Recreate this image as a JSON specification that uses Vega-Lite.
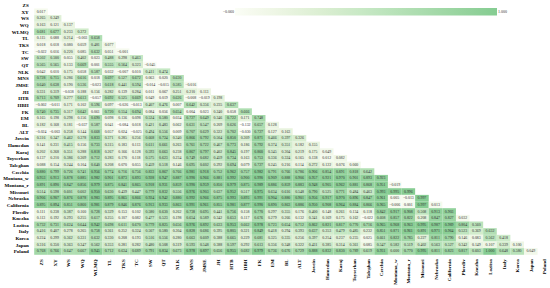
{"$schema":"https://vega.github.io/schema/vega-lite/v6.json","width":517,"height":253,"autosize":"none","padding":{"left":34.2,"top":1.8,"right":0,"bottom":33.2},"background":"white","config":{"view":{"stroke":null}},
"data":{"values":[
{"r":"XY","c":"ZS","v":0.017},
{"r":"WS","c":"ZS","v":0.265},{"r":"WS","c":"XY","v":0.249},
{"r":"WQ","c":"ZS","v":0.163},{"r":"WQ","c":"XY","v":0.121},{"r":"WQ","c":"WS","v":0.137},
{"r":"WLMQ","c":"ZS","v":0.681},{"r":"WLMQ","c":"XY","v":0.677},{"r":"WLMQ","c":"WS","v":0.233},{"r":"WLMQ","c":"WQ","v":0.372},
{"r":"TL","c":"ZS","v":0.115},{"r":"TL","c":"XY","v":0.088},{"r":"TL","c":"WS","v":0.214},{"r":"TL","c":"WQ","v":-0.003},{"r":"TL","c":"WLMQ","v":0.658},
{"r":"TKS","c":"ZS","v":0.018},{"r":"TKS","c":"XY","v":0.018},{"r":"TKS","c":"WS","v":0.08},{"r":"TKS","c":"WQ","v":0.059},{"r":"TKS","c":"WLMQ","v":0.481},{"r":"TKS","c":"TL","v":0.077},
{"r":"TC","c":"ZS","v":-0.022},{"r":"TC","c":"XY","v":0.016},{"r":"TC","c":"WS","v":0.22},{"r":"TC","c":"WQ","v":0.085},{"r":"TC","c":"WLMQ","v":0.632},{"r":"TC","c":"TL","v":0.051},{"r":"TC","c":"TKS","v":-0.001},
{"r":"SW","c":"ZS","v":0.502},{"r":"SW","c":"XY","v":0.5},{"r":"SW","c":"WS","v":0.055},{"r":"SW","c":"WQ","v":0.402},{"r":"SW","c":"WLMQ","v":0.023},{"r":"SW","c":"TL","v":0.488},{"r":"SW","c":"TKS","v":0.298},{"r":"SW","c":"TC","v":0.463},
{"r":"QT","c":"ZS","v":0.565},{"r":"QT","c":"XY","v":0.565},{"r":"QT","c":"WS","v":0.133},{"r":"QT","c":"WQ","v":0.669},{"r":"QT","c":"WLMQ","v":0.001},{"r":"QT","c":"TL","v":0.555},{"r":"QT","c":"TKS","v":0.564},{"r":"QT","c":"TC","v":0.323},{"r":"QT","c":"SW","v":-0.045},
{"r":"NLK","c":"ZS","v":0.042},{"r":"NLK","c":"XY","v":0.01},{"r":"NLK","c":"WS","v":0.175},{"r":"NLK","c":"WQ","v":0.058},{"r":"NLK","c":"WLMQ","v":0.587},{"r":"NLK","c":"TL","v":0.032},{"r":"NLK","c":"TKS","v":-0.007},{"r":"NLK","c":"TC","v":0.01},{"r":"NLK","c":"SW","v":0.411},{"r":"NLK","c":"QT","v":0.474},
{"r":"MNS","c":"ZS","v":0.728},{"r":"MNS","c":"XY","v":0.715},{"r":"MNS","c":"WS","v":0.286},{"r":"MNS","c":"WQ","v":0.616},{"r":"MNS","c":"WLMQ","v":0.018},{"r":"MNS","c":"TL","v":0.697},{"r":"MNS","c":"TKS","v":0.527},{"r":"MNS","c":"TC","v":0.672},{"r":"MNS","c":"SW","v":0.063},{"r":"MNS","c":"QT","v":0.02},{"r":"MNS","c":"NLK","v":0.63},
{"r":"JMSE","c":"ZS","v":0.64},{"r":"JMSE","c":"XY","v":0.638},{"r":"JMSE","c":"WS","v":0.19},{"r":"JMSE","c":"WQ","v":0.536},{"r":"JMSE","c":"WLMQ","v":-0.023},{"r":"JMSE","c":"TL","v":0.618},{"r":"JMSE","c":"TKS","v":0.441},{"r":"JMSE","c":"TC","v":0.594},{"r":"JMSE","c":"SW","v":-0.014},{"r":"JMSE","c":"QT","v":-0.015},{"r":"JMSE","c":"NLK","v":0.585},{"r":"JMSE","c":"MNS","v":-0.016},
{"r":"JH","c":"ZS","v":0.331},{"r":"JH","c":"XY","v":0.319},{"r":"JH","c":"WS","v":-0.038},{"r":"JH","c":"WQ","v":0.188},{"r":"JH","c":"WLMQ","v":0.156},{"r":"JH","c":"TL","v":0.282},{"r":"JH","c":"TKS","v":0.139},{"r":"JH","c":"TC","v":0.284},{"r":"JH","c":"SW","v":0.011},{"r":"JH","c":"QT","v":0.067},{"r":"JH","c":"NLK","v":0.251},{"r":"JH","c":"MNS","v":0.21},{"r":"JH","c":"JMSE","v":0.113},
{"r":"HTB","c":"ZS","v":0.713},{"r":"HTB","c":"XY","v":0.709},{"r":"HTB","c":"WS","v":0.277},{"r":"HTB","c":"WQ","v":0.613},{"r":"HTB","c":"WLMQ","v":-0.057},{"r":"HTB","c":"TL","v":0.692},{"r":"HTB","c":"TKS","v":0.525},{"r":"HTB","c":"TC","v":0.669},{"r":"HTB","c":"SW","v":0.049},{"r":"HTB","c":"QT","v":0.019},{"r":"HTB","c":"NLK","v":0.626},{"r":"HTB","c":"MNS","v":-0.008},{"r":"HTB","c":"JMSE","v":-0.019},{"r":"HTB","c":"JH","v":0.198},
{"r":"HBH","c":"ZS","v":-0.002},{"r":"HBH","c":"XY","v":-0.011},{"r":"HBH","c":"WS","v":0.171},{"r":"HBH","c":"WQ","v":0.102},{"r":"HBH","c":"WLMQ","v":0.596},{"r":"HBH","c":"TL","v":0.097},{"r":"HBH","c":"TKS","v":-0.026},{"r":"HBH","c":"TC","v":-0.013},{"r":"HBH","c":"SW","v":0.407},{"r":"HBH","c":"QT","v":0.476},{"r":"HBH","c":"NLK","v":0.007},{"r":"HBH","c":"MNS","v":0.642},{"r":"HBH","c":"JMSE","v":0.356},{"r":"HBH","c":"JH","v":0.235},{"r":"HBH","c":"HTB","v":0.637},
{"r":"FK","c":"ZS","v":0.74},{"r":"FK","c":"XY","v":0.735},{"r":"FK","c":"WS","v":0.317},{"r":"FK","c":"WQ","v":0.642},{"r":"FK","c":"WLMQ","v":0.061},{"r":"FK","c":"TL","v":0.72},{"r":"FK","c":"TKS","v":0.554},{"r":"FK","c":"TC","v":0.694},{"r":"FK","c":"SW","v":0.084},{"r":"FK","c":"QT","v":0.056},{"r":"FK","c":"NLK","v":0.654},{"r":"FK","c":"MNS","v":0.004},{"r":"FK","c":"JMSE","v":0.023},{"r":"FK","c":"JH","v":0.24},{"r":"FK","c":"HTB","v":0.058},{"r":"FK","c":"HBH","v":0.666},
{"r":"EM","c":"ZS","v":0.165},{"r":"EM","c":"XY","v":0.198},{"r":"EM","c":"WS","v":0.298},{"r":"EM","c":"WQ","v":0.156},{"r":"EM","c":"WLMQ","v":0.69},{"r":"EM","c":"TL","v":0.098},{"r":"EM","c":"TKS","v":0.136},{"r":"EM","c":"TC","v":0.098},{"r":"EM","c":"SW","v":0.524},{"r":"EM","c":"QT","v":0.58},{"r":"EM","c":"NLK","v":0.034},{"r":"EM","c":"MNS","v":0.727},{"r":"EM","c":"JMSE","v":0.649},{"r":"EM","c":"JH","v":0.346},{"r":"EM","c":"HTB","v":0.722},{"r":"EM","c":"HBH","v":0.171},{"r":"EM","c":"FK","v":0.748},
{"r":"BL","c":"ZS","v":0.182},{"r":"BL","c":"XY","v":0.168},{"r":"BL","c":"WS","v":0.181},{"r":"BL","c":"WQ","v":-0.037},{"r":"BL","c":"WLMQ","v":0.587},{"r":"BL","c":"TL","v":0.041},{"r":"BL","c":"TKS","v":-0.084},{"r":"BL","c":"TC","v":0.018},{"r":"BL","c":"SW","v":0.421},{"r":"BL","c":"QT","v":0.483},{"r":"BL","c":"NLK","v":0.062},{"r":"BL","c":"MNS","v":0.631},{"r":"BL","c":"JMSE","v":0.547},{"r":"BL","c":"JH","v":0.209},{"r":"BL","c":"HTB","v":0.626},{"r":"BL","c":"HBH","v":-0.132},{"r":"BL","c":"FK","v":0.657},{"r":"BL","c":"EM","v":0.128},
{"r":"ALT","c":"ZS","v":-0.024},{"r":"ALT","c":"XY","v":-0.003},{"r":"ALT","c":"WS","v":0.258},{"r":"ALT","c":"WQ","v":0.144},{"r":"ALT","c":"WLMQ","v":0.668},{"r":"ALT","c":"TL","v":0.057},{"r":"ALT","c":"TKS","v":0.024},{"r":"ALT","c":"TC","v":-0.025},{"r":"ALT","c":"SW","v":0.494},{"r":"ALT","c":"QT","v":0.556},{"r":"ALT","c":"NLK","v":0.009},{"r":"ALT","c":"MNS","v":0.707},{"r":"ALT","c":"JMSE","v":0.629},{"r":"ALT","c":"JH","v":0.322},{"r":"ALT","c":"HTB","v":0.702},{"r":"ALT","c":"HBH","v":-0.03},{"r":"ALT","c":"FK","v":0.727},{"r":"ALT","c":"EM","v":0.127},{"r":"ALT","c":"BL","v":0.163},
{"r":"Jovein","c":"ZS","v":0.316},{"r":"Jovein","c":"XY","v":0.347},{"r":"Jovein","c":"WS","v":0.462},{"r":"Jovein","c":"WQ","v":0.378},{"r":"Jovein","c":"WLMQ","v":0.833},{"r":"Jovein","c":"TL","v":0.371},{"r":"Jovein","c":"TKS","v":0.285},{"r":"Jovein","c":"TC","v":0.256},{"r":"Jovein","c":"SW","v":0.668},{"r":"Jovein","c":"QT","v":0.724},{"r":"Jovein","c":"NLK","v":0.34},{"r":"Jovein","c":"MNS","v":0.866},{"r":"Jovein","c":"JMSE","v":0.792},{"r":"Jovein","c":"JH","v":0.504},{"r":"Jovein","c":"HTB","v":0.85},{"r":"Jovein","c":"HBH","v":0.309},{"r":"Jovein","c":"FK","v":0.871},{"r":"Jovein","c":"EM","v":0.466},{"r":"Jovein","c":"BL","v":0.397},{"r":"Jovein","c":"ALT","v":0.326},
{"r":"Hamedan","c":"ZS","v":0.141},{"r":"Hamedan","c":"XY","v":0.231},{"r":"Hamedan","c":"WS","v":0.415},{"r":"Hamedan","c":"WQ","v":0.156},{"r":"Hamedan","c":"WLMQ","v":0.733},{"r":"Hamedan","c":"TL","v":0.315},{"r":"Hamedan","c":"TKS","v":0.183},{"r":"Hamedan","c":"TC","v":0.113},{"r":"Hamedan","c":"SW","v":0.611},{"r":"Hamedan","c":"QT","v":0.661},{"r":"Hamedan","c":"NLK","v":0.263},{"r":"Hamedan","c":"MNS","v":0.761},{"r":"Hamedan","c":"JMSE","v":0.722},{"r":"Hamedan","c":"JH","v":0.467},{"r":"Hamedan","c":"HTB","v":0.773},{"r":"Hamedan","c":"HBH","v":0.186},{"r":"Hamedan","c":"FK","v":0.792},{"r":"Hamedan","c":"EM","v":0.374},{"r":"Hamedan","c":"BL","v":0.351},{"r":"Hamedan","c":"ALT","v":0.182},{"r":"Hamedan","c":"Jovein","v":0.155},
{"r":"Karaj","c":"ZS","v":0.202},{"r":"Karaj","c":"XY","v":0.268},{"r":"Karaj","c":"WS","v":0.351},{"r":"Karaj","c":"WQ","v":0.288},{"r":"Karaj","c":"WLMQ","v":0.818},{"r":"Karaj","c":"TL","v":0.267},{"r":"Karaj","c":"TKS","v":0.166},{"r":"Karaj","c":"TC","v":0.128},{"r":"Karaj","c":"SW","v":0.593},{"r":"Karaj","c":"QT","v":0.663},{"r":"Karaj","c":"NLK","v":0.238},{"r":"Karaj","c":"MNS","v":0.867},{"r":"Karaj","c":"JMSE","v":0.797},{"r":"Karaj","c":"JH","v":0.402},{"r":"Karaj","c":"HTB","v":0.845},{"r":"Karaj","c":"HBH","v":0.197},{"r":"Karaj","c":"FK","v":0.86},{"r":"Karaj","c":"EM","v":0.345},{"r":"Karaj","c":"BL","v":0.304},{"r":"Karaj","c":"ALT","v":0.219},{"r":"Karaj","c":"Jovein","v":0.175},{"r":"Karaj","c":"Hamedan","v":0.049},
{"r":"Toyserkan","c":"ZS","v":0.137},{"r":"Toyserkan","c":"XY","v":0.21},{"r":"Toyserkan","c":"WS","v":0.386},{"r":"Toyserkan","c":"WQ","v":0.309},{"r":"Toyserkan","c":"WLMQ","v":0.712},{"r":"Toyserkan","c":"TL","v":0.283},{"r":"Toyserkan","c":"TKS","v":0.17},{"r":"Toyserkan","c":"TC","v":0.118},{"r":"Toyserkan","c":"SW","v":0.575},{"r":"Toyserkan","c":"QT","v":0.623},{"r":"Toyserkan","c":"NLK","v":0.234},{"r":"Toyserkan","c":"MNS","v":0.749},{"r":"Toyserkan","c":"JMSE","v":0.682},{"r":"Toyserkan","c":"JH","v":0.459},{"r":"Toyserkan","c":"HTB","v":0.734},{"r":"Toyserkan","c":"HBH","v":0.163},{"r":"Toyserkan","c":"FK","v":0.753},{"r":"Toyserkan","c":"EM","v":0.336},{"r":"Toyserkan","c":"BL","v":0.324},{"r":"Toyserkan","c":"ALT","v":0.165},{"r":"Toyserkan","c":"Jovein","v":0.138},{"r":"Toyserkan","c":"Hamedan","v":0.012},{"r":"Toyserkan","c":"Karaj","v":0.082},
{"r":"Taleghan","c":"ZS","v":0.088},{"r":"Taleghan","c":"XY","v":0.154},{"r":"Taleghan","c":"WS","v":0.244},{"r":"Taleghan","c":"WQ","v":0.104},{"r":"Taleghan","c":"WLMQ","v":0.64},{"r":"Taleghan","c":"TL","v":0.208},{"r":"Taleghan","c":"TKS","v":0.07},{"r":"Taleghan","c":"TC","v":0.055},{"r":"Taleghan","c":"SW","v":0.459},{"r":"Taleghan","c":"QT","v":0.518},{"r":"Taleghan","c":"NLK","v":0.146},{"r":"Taleghan","c":"MNS","v":0.695},{"r":"Taleghan","c":"JMSE","v":0.602},{"r":"Taleghan","c":"JH","v":0.292},{"r":"Taleghan","c":"HTB","v":0.694},{"r":"Taleghan","c":"HBH","v":0.079},{"r":"Taleghan","c":"FK","v":0.727},{"r":"Taleghan","c":"EM","v":0.245},{"r":"Taleghan","c":"BL","v":0.216},{"r":"Taleghan","c":"ALT","v":0.114},{"r":"Taleghan","c":"Jovein","v":0.272},{"r":"Taleghan","c":"Hamedan","v":0.122},{"r":"Taleghan","c":"Karaj","v":0.076},{"r":"Taleghan","c":"Toyserkan","v":0.06},
{"r":"Czechia","c":"ZS","v":0.88},{"r":"Czechia","c":"XY","v":0.799},{"r":"Czechia","c":"WS","v":0.726},{"r":"Czechia","c":"WQ","v":0.741},{"r":"Czechia","c":"WLMQ","v":0.956},{"r":"Czechia","c":"TL","v":0.774},{"r":"Czechia","c":"TKS","v":0.716},{"r":"Czechia","c":"TC","v":0.756},{"r":"Czechia","c":"SW","v":0.833},{"r":"Czechia","c":"QT","v":0.867},{"r":"Czechia","c":"NLK","v":0.766},{"r":"Czechia","c":"MNS","v":0.981},{"r":"Czechia","c":"JMSE","v":0.918},{"r":"Czechia","c":"JH","v":0.752},{"r":"Czechia","c":"HTB","v":0.962},{"r":"Czechia","c":"HBH","v":0.757},{"r":"Czechia","c":"FK","v":0.982},{"r":"Czechia","c":"EM","v":0.791},{"r":"Czechia","c":"BL","v":0.766},{"r":"Czechia","c":"ALT","v":0.786},{"r":"Czechia","c":"Jovein","v":0.906},{"r":"Czechia","c":"Hamedan","v":0.854},{"r":"Czechia","c":"Karaj","v":0.891},{"r":"Czechia","c":"Toyserkan","v":0.818},{"r":"Czechia","c":"Taleghan","v":0.642},
{"r":"Montana_w","c":"ZS","v":0.953},{"r":"Montana_w","c":"XY","v":0.913},{"r":"Montana_w","c":"WS","v":0.878},{"r":"Montana_w","c":"WQ","v":0.885},{"r":"Montana_w","c":"WLMQ","v":0.982},{"r":"Montana_w","c":"TL","v":0.901},{"r":"Montana_w","c":"TKS","v":0.873},{"r":"Montana_w","c":"TC","v":0.893},{"r":"Montana_w","c":"SW","v":0.928},{"r":"Montana_w","c":"QT","v":0.947},{"r":"Montana_w","c":"NLK","v":0.887},{"r":"Montana_w","c":"MNS","v":0.99},{"r":"Montana_w","c":"JMSE","v":0.966},{"r":"Montana_w","c":"JH","v":0.881},{"r":"Montana_w","c":"HTB","v":0.992},{"r":"Montana_w","c":"HBH","v":0.9},{"r":"Montana_w","c":"FK","v":0.99},{"r":"Montana_w","c":"EM","v":0.909},{"r":"Montana_w","c":"BL","v":0.888},{"r":"Montana_w","c":"ALT","v":0.906},{"r":"Montana_w","c":"Jovein","v":0.957},{"r":"Montana_w","c":"Hamedan","v":0.921},{"r":"Montana_w","c":"Karaj","v":0.97},{"r":"Montana_w","c":"Toyserkan","v":0.901},{"r":"Montana_w","c":"Taleghan","v":0.893},{"r":"Montana_w","c":"Czechia","v":0.923},
{"r":"Montana_r","c":"ZS","v":0.891},{"r":"Montana_r","c":"XY","v":0.89},{"r":"Montana_r","c":"WS","v":0.847},{"r":"Montana_r","c":"WQ","v":0.856},{"r":"Montana_r","c":"WLMQ","v":0.979},{"r":"Montana_r","c":"TL","v":0.875},{"r":"Montana_r","c":"TKS","v":0.841},{"r":"Montana_r","c":"TC","v":0.865},{"r":"Montana_r","c":"SW","v":0.918},{"r":"Montana_r","c":"QT","v":0.931},{"r":"Montana_r","c":"NLK","v":0.859},{"r":"Montana_r","c":"MNS","v":0.99},{"r":"Montana_r","c":"JMSE","v":0.959},{"r":"Montana_r","c":"JH","v":0.85},{"r":"Montana_r","c":"HTB","v":0.979},{"r":"Montana_r","c":"HBH","v":0.875},{"r":"Montana_r","c":"FK","v":0.989},{"r":"Montana_r","c":"EM","v":0.886},{"r":"Montana_r","c":"BL","v":0.859},{"r":"Montana_r","c":"ALT","v":0.883},{"r":"Montana_r","c":"Jovein","v":0.948},{"r":"Montana_r","c":"Hamedan","v":0.905},{"r":"Montana_r","c":"Karaj","v":0.962},{"r":"Montana_r","c":"Toyserkan","v":0.881},{"r":"Montana_r","c":"Taleghan","v":0.868},{"r":"Montana_r","c":"Czechia","v":0.951},{"r":"Montana_r","c":"Montana_w","v":-0.019},
{"r":"Missouri","c":"ZS","v":0.514},{"r":"Missouri","c":"XY","v":0.598},{"r":"Missouri","c":"WS","v":0.601},{"r":"Missouri","c":"WQ","v":0.602},{"r":"Missouri","c":"WLMQ","v":0.95},{"r":"Missouri","c":"TL","v":0.63},{"r":"Missouri","c":"TKS","v":0.439},{"r":"Missouri","c":"TC","v":0.447},{"r":"Missouri","c":"SW","v":0.779},{"r":"Missouri","c":"QT","v":0.832},{"r":"Missouri","c":"NLK","v":0.556},{"r":"Missouri","c":"MNS","v":0.976},{"r":"Missouri","c":"JMSE","v":0.903},{"r":"Missouri","c":"JH","v":0.637},{"r":"Missouri","c":"HTB","v":0.952},{"r":"Missouri","c":"HBH","v":0.517},{"r":"Missouri","c":"FK","v":0.975},{"r":"Missouri","c":"EM","v":0.634},{"r":"Missouri","c":"BL","v":0.616},{"r":"Missouri","c":"ALT","v":0.548},{"r":"Missouri","c":"Jovein","v":0.79},{"r":"Missouri","c":"Hamedan","v":0.525},{"r":"Missouri","c":"Karaj","v":0.771},{"r":"Missouri","c":"Toyserkan","v":0.484},{"r":"Missouri","c":"Taleghan","v":0.463},{"r":"Missouri","c":"Czechia","v":0.993},{"r":"Missouri","c":"Montana_w","v":0.995},{"r":"Missouri","c":"Montana_r","v":0.996},
{"r":"Nebraska","c":"ZS","v":0.906},{"r":"Nebraska","c":"XY","v":0.907},{"r":"Nebraska","c":"WS","v":0.876},{"r":"Nebraska","c":"WQ","v":0.878},{"r":"Nebraska","c":"WLMQ","v":0.983},{"r":"Nebraska","c":"TL","v":0.895},{"r":"Nebraska","c":"TKS","v":0.865},{"r":"Nebraska","c":"TC","v":0.866},{"r":"Nebraska","c":"SW","v":0.924},{"r":"Nebraska","c":"QT","v":0.942},{"r":"Nebraska","c":"NLK","v":0.88},{"r":"Nebraska","c":"MNS","v":0.992},{"r":"Nebraska","c":"JMSE","v":0.966},{"r":"Nebraska","c":"JH","v":0.875},{"r":"Nebraska","c":"HTB","v":0.993},{"r":"Nebraska","c":"HBH","v":0.893},{"r":"Nebraska","c":"FK","v":0.991},{"r":"Nebraska","c":"EM","v":0.904},{"r":"Nebraska","c":"BL","v":0.88},{"r":"Nebraska","c":"ALT","v":0.901},{"r":"Nebraska","c":"Jovein","v":0.956},{"r":"Nebraska","c":"Hamedan","v":0.917},{"r":"Nebraska","c":"Karaj","v":0.97},{"r":"Nebraska","c":"Toyserkan","v":0.896},{"r":"Nebraska","c":"Taleghan","v":0.847},{"r":"Nebraska","c":"Czechia","v":0.961},{"r":"Nebraska","c":"Montana_w","v":0.005},{"r":"Nebraska","c":"Montana_r","v":-0.013},{"r":"Nebraska","c":"Missouri","v":0.997},
{"r":"California","c":"ZS","v":0.895},{"r":"California","c":"XY","v":0.894},{"r":"California","c":"WS","v":0.851},{"r":"California","c":"WQ","v":0.86},{"r":"California","c":"WLMQ","v":0.981},{"r":"California","c":"TL","v":0.879},{"r":"California","c":"TKS","v":0.846},{"r":"California","c":"TC","v":0.876},{"r":"California","c":"SW","v":0.913},{"r":"California","c":"QT","v":0.933},{"r":"California","c":"NLK","v":0.863},{"r":"California","c":"MNS","v":0.991},{"r":"California","c":"JMSE","v":0.961},{"r":"California","c":"JH","v":0.855},{"r":"California","c":"HTB","v":0.981},{"r":"California","c":"HBH","v":0.877},{"r":"California","c":"FK","v":0.99},{"r":"California","c":"EM","v":0.89},{"r":"California","c":"BL","v":0.863},{"r":"California","c":"ALT","v":0.886},{"r":"California","c":"Jovein","v":0.95},{"r":"California","c":"Hamedan","v":0.908},{"r":"California","c":"Karaj","v":0.964},{"r":"California","c":"Toyserkan","v":0.884},{"r":"California","c":"Taleghan","v":0.866},{"r":"California","c":"Czechia","v":0.965},{"r":"California","c":"Montana_w","v":-0.006},{"r":"California","c":"Montana_r","v":0.001},{"r":"California","c":"Missouri","v":0.997},{"r":"California","c":"Nebraska","v":0.013},
{"r":"Plovdiv","c":"ZS","v":0.111},{"r":"Plovdiv","c":"XY","v":0.238},{"r":"Plovdiv","c":"WS","v":0.387},{"r":"Plovdiv","c":"WQ","v":0.16},{"r":"Plovdiv","c":"WLMQ","v":0.728},{"r":"Plovdiv","c":"TL","v":0.329},{"r":"Plovdiv","c":"TKS","v":0.153},{"r":"Plovdiv","c":"TC","v":0.102},{"r":"Plovdiv","c":"SW","v":0.58},{"r":"Plovdiv","c":"QT","v":0.63},{"r":"Plovdiv","c":"NLK","v":0.262},{"r":"Plovdiv","c":"MNS","v":0.738},{"r":"Plovdiv","c":"JMSE","v":0.695},{"r":"Plovdiv","c":"JH","v":0.441},{"r":"Plovdiv","c":"HTB","v":0.756},{"r":"Plovdiv","c":"HBH","v":0.158},{"r":"Plovdiv","c":"FK","v":0.77},{"r":"Plovdiv","c":"EM","v":0.297},{"r":"Plovdiv","c":"BL","v":0.355},{"r":"Plovdiv","c":"ALT","v":0.176},{"r":"Plovdiv","c":"Jovein","v":0.4},{"r":"Plovdiv","c":"Hamedan","v":0.148},{"r":"Plovdiv","c":"Karaj","v":0.261},{"r":"Plovdiv","c":"Toyserkan","v":0.134},{"r":"Plovdiv","c":"Taleghan","v":0.118},{"r":"Plovdiv","c":"Czechia","v":0.842},{"r":"Plovdiv","c":"Montana_w","v":0.917},{"r":"Plovdiv","c":"Montana_r","v":0.908},{"r":"Plovdiv","c":"Missouri","v":0.508},{"r":"Plovdiv","c":"Nebraska","v":0.913},{"r":"Plovdiv","c":"California","v":0.903},
{"r":"Knezha","c":"ZS","v":0.113},{"r":"Knezha","c":"XY","v":0.192},{"r":"Knezha","c":"WS","v":0.293},{"r":"Knezha","c":"WQ","v":0.255},{"r":"Knezha","c":"WLMQ","v":0.617},{"r":"Knezha","c":"TL","v":0.255},{"r":"Knezha","c":"TKS","v":0.107},{"r":"Knezha","c":"TC","v":0.082},{"r":"Knezha","c":"SW","v":0.477},{"r":"Knezha","c":"QT","v":0.523},{"r":"Knezha","c":"NLK","v":0.198},{"r":"Knezha","c":"MNS","v":0.654},{"r":"Knezha","c":"JMSE","v":0.589},{"r":"Knezha","c":"JH","v":0.342},{"r":"Knezha","c":"HTB","v":0.653},{"r":"Knezha","c":"HBH","v":0.117},{"r":"Knezha","c":"FK","v":0.676},{"r":"Knezha","c":"EM","v":0.279},{"r":"Knezha","c":"BL","v":0.266},{"r":"Knezha","c":"ALT","v":0.132},{"r":"Knezha","c":"Jovein","v":0.341},{"r":"Knezha","c":"Hamedan","v":0.169},{"r":"Knezha","c":"Karaj","v":0.175},{"r":"Knezha","c":"Toyserkan","v":0.162},{"r":"Knezha","c":"Taleghan","v":-0.022},{"r":"Knezha","c":"Czechia","v":0.608},{"r":"Knezha","c":"Montana_w","v":0.857},{"r":"Knezha","c":"Montana_r","v":0.822},{"r":"Knezha","c":"Missouri","v":0.208},{"r":"Knezha","c":"Nebraska","v":0.847},{"r":"Knezha","c":"California","v":0.827},{"r":"Knezha","c":"Plovdiv","v":0.032},
{"r":"Lozitsa","c":"ZS","v":0.732},{"r":"Lozitsa","c":"XY","v":0.731},{"r":"Lozitsa","c":"WS","v":0.624},{"r":"Lozitsa","c":"WQ","v":0.644},{"r":"Lozitsa","c":"WLMQ","v":0.942},{"r":"Lozitsa","c":"TL","v":0.698},{"r":"Lozitsa","c":"TKS","v":0.611},{"r":"Lozitsa","c":"TC","v":0.67},{"r":"Lozitsa","c":"SW","v":0.779},{"r":"Lozitsa","c":"QT","v":0.825},{"r":"Lozitsa","c":"NLK","v":0.656},{"r":"Lozitsa","c":"MNS","v":0.976},{"r":"Lozitsa","c":"JMSE","v":0.892},{"r":"Lozitsa","c":"JH","v":0.633},{"r":"Lozitsa","c":"HTB","v":0.953},{"r":"Lozitsa","c":"HBH","v":0.662},{"r":"Lozitsa","c":"FK","v":0.978},{"r":"Lozitsa","c":"EM","v":0.723},{"r":"Lozitsa","c":"BL","v":0.654},{"r":"Lozitsa","c":"ALT","v":0.712},{"r":"Lozitsa","c":"Jovein","v":0.862},{"r":"Lozitsa","c":"Hamedan","v":0.821},{"r":"Lozitsa","c":"Karaj","v":0.817},{"r":"Lozitsa","c":"Toyserkan","v":0.77},{"r":"Lozitsa","c":"Taleghan","v":0.716},{"r":"Lozitsa","c":"Czechia","v":0.965},{"r":"Lozitsa","c":"Montana_w","v":0.968},{"r":"Lozitsa","c":"Montana_r","v":0.963},{"r":"Lozitsa","c":"Missouri","v":0.995},{"r":"Lozitsa","c":"Nebraska","v":0.987},{"r":"Lozitsa","c":"California","v":0.989},{"r":"Lozitsa","c":"Plovdiv","v":0.804},{"r":"Lozitsa","c":"Knezha","v":0.56},
{"r":"Italy","c":"ZS","v":0.416},{"r":"Italy","c":"XY","v":0.407},{"r":"Italy","c":"WS","v":0.278},{"r":"Italy","c":"WQ","v":0.265},{"r":"Italy","c":"WLMQ","v":0.758},{"r":"Italy","c":"TL","v":0.361},{"r":"Italy","c":"TKS","v":0.252},{"r":"Italy","c":"TC","v":0.324},{"r":"Italy","c":"SW","v":0.507},{"r":"Italy","c":"QT","v":0.58},{"r":"Italy","c":"NLK","v":0.304},{"r":"Italy","c":"MNS","v":0.828},{"r":"Italy","c":"JMSE","v":0.686},{"r":"Italy","c":"JH","v":0.395},{"r":"Italy","c":"HTB","v":0.805},{"r":"Italy","c":"HBH","v":0.321},{"r":"Italy","c":"FK","v":0.849},{"r":"Italy","c":"EM","v":0.418},{"r":"Italy","c":"BL","v":0.294},{"r":"Italy","c":"ALT","v":0.393},{"r":"Italy","c":"Jovein","v":0.637},{"r":"Italy","c":"Hamedan","v":0.353},{"r":"Italy","c":"Karaj","v":0.479},{"r":"Italy","c":"Toyserkan","v":0.485},{"r":"Italy","c":"Taleghan","v":0.232},{"r":"Italy","c":"Czechia","v":0.851},{"r":"Italy","c":"Montana_w","v":0.871},{"r":"Italy","c":"Montana_r","v":0.961},{"r":"Italy","c":"Missouri","v":0.891},{"r":"Italy","c":"Nebraska","v":0.971},{"r":"Italy","c":"California","v":0.964},{"r":"Italy","c":"Plovdiv","v":0.523},{"r":"Italy","c":"Knezha","v":0.369},{"r":"Italy","c":"Lozitsa","v":0.632},
{"r":"Korea","c":"ZS","v":0.224},{"r":"Korea","c":"XY","v":0.299},{"r":"Korea","c":"WS","v":0.362},{"r":"Korea","c":"WQ","v":0.331},{"r":"Korea","c":"WLMQ","v":0.632},{"r":"Korea","c":"TL","v":0.33},{"r":"Korea","c":"TKS","v":0.208},{"r":"Korea","c":"TC","v":0.193},{"r":"Korea","c":"SW","v":0.516},{"r":"Korea","c":"QT","v":0.556},{"r":"Korea","c":"NLK","v":0.28},{"r":"Korea","c":"MNS","v":0.663},{"r":"Korea","c":"JMSE","v":0.609},{"r":"Korea","c":"JH","v":0.388},{"r":"Korea","c":"HTB","v":0.665},{"r":"Korea","c":"HBH","v":0.229},{"r":"Korea","c":"FK","v":0.681},{"r":"Korea","c":"EM","v":0.325},{"r":"Korea","c":"BL","v":0.335},{"r":"Korea","c":"ALT","v":0.256},{"r":"Korea","c":"Jovein","v":0.397},{"r":"Korea","c":"Hamedan","v":0.254},{"r":"Korea","c":"Karaj","v":0.237},{"r":"Korea","c":"Toyserkan","v":0.235},{"r":"Korea","c":"Taleghan","v":0.025},{"r":"Korea","c":"Czechia","v":0.661},{"r":"Korea","c":"Montana_w","v":0.822},{"r":"Korea","c":"Montana_r","v":0.785},{"r":"Korea","c":"Missouri","v":0.227},{"r":"Korea","c":"Nebraska","v":0.811},{"r":"Korea","c":"California","v":0.79},{"r":"Korea","c":"Plovdiv","v":0.146},{"r":"Korea","c":"Knezha","v":0.083},{"r":"Korea","c":"Lozitsa","v":0.562},{"r":"Korea","c":"Italy","v":0.418},
{"r":"Japan","c":"ZS","v":0.316},{"r":"Japan","c":"XY","v":0.35},{"r":"Japan","c":"WS","v":0.363},{"r":"Japan","c":"WQ","v":0.347},{"r":"Japan","c":"WLMQ","v":0.562},{"r":"Japan","c":"TL","v":0.353},{"r":"Japan","c":"TKS","v":0.281},{"r":"Japan","c":"TC","v":0.282},{"r":"Japan","c":"SW","v":0.48},{"r":"Japan","c":"QT","v":0.508},{"r":"Japan","c":"NLK","v":0.319},{"r":"Japan","c":"MNS","v":0.593},{"r":"Japan","c":"JMSE","v":0.548},{"r":"Japan","c":"JH","v":0.388},{"r":"Japan","c":"HTB","v":0.597},{"r":"Japan","c":"HBH","v":0.292},{"r":"Japan","c":"FK","v":0.613},{"r":"Japan","c":"EM","v":0.356},{"r":"Japan","c":"BL","v":0.348},{"r":"Japan","c":"ALT","v":0.322},{"r":"Japan","c":"Jovein","v":0.431},{"r":"Japan","c":"Hamedan","v":0.385},{"r":"Japan","c":"Karaj","v":0.314},{"r":"Japan","c":"Toyserkan","v":0.361},{"r":"Japan","c":"Taleghan","v":0.085},{"r":"Japan","c":"Czechia","v":0.547},{"r":"Japan","c":"Montana_w","v":0.582},{"r":"Japan","c":"Montana_r","v":0.519},{"r":"Japan","c":"Missouri","v":0.402},{"r":"Japan","c":"Nebraska","v":0.563},{"r":"Japan","c":"California","v":0.527},{"r":"Japan","c":"Plovdiv","v":0.342},{"r":"Japan","c":"Knezha","v":0.149},{"r":"Japan","c":"Lozitsa","v":0.107},{"r":"Japan","c":"Italy","v":0.339},{"r":"Japan","c":"Korea","v":0.1},
{"r":"Poland","c":"ZS","v":0.768},{"r":"Poland","c":"XY","v":0.766},{"r":"Poland","c":"WS","v":0.647},{"r":"Poland","c":"WQ","v":0.667},{"r":"Poland","c":"WLMQ","v":0.945},{"r":"Poland","c":"TL","v":0.712},{"r":"Poland","c":"TKS","v":0.634},{"r":"Poland","c":"TC","v":0.689},{"r":"Poland","c":"SW","v":0.791},{"r":"Poland","c":"QT","v":0.834},{"r":"Poland","c":"NLK","v":0.673},{"r":"Poland","c":"MNS","v":0.978},{"r":"Poland","c":"JMSE","v":0.897},{"r":"Poland","c":"JH","v":0.656},{"r":"Poland","c":"HTB","v":0.955},{"r":"Poland","c":"HBH","v":0.682},{"r":"Poland","c":"FK","v":0.979},{"r":"Poland","c":"EM","v":0.736},{"r":"Poland","c":"BL","v":0.676},{"r":"Poland","c":"ALT","v":0.729},{"r":"Poland","c":"Jovein","v":0.888},{"r":"Poland","c":"Hamedan","v":0.832},{"r":"Poland","c":"Karaj","v":0.83},{"r":"Poland","c":"Toyserkan","v":0.789},{"r":"Poland","c":"Taleghan","v":0.619},{"r":"Poland","c":"Czechia","v":0.931},{"r":"Poland","c":"Montana_w","v":0.6},{"r":"Poland","c":"Montana_r","v":0.77},{"r":"Poland","c":"Missouri","v":0.995},{"r":"Poland","c":"Nebraska","v":0.811},{"r":"Poland","c":"California","v":0.823},{"r":"Poland","c":"Plovdiv","v":0.817},{"r":"Poland","c":"Knezha","v":0.603},{"r":"Poland","c":"Lozitsa","v":1.0},{"r":"Poland","c":"Italy","v":0.648},{"r":"Poland","c":"Korea","v":0.58},{"r":"Poland","c":"Japan","v":0.049}
]},
"encoding":{
"x":{"field":"c","type":"nominal","scale":{"paddingInner":0,"paddingOuter":0,"domain":["ZS","XY","WS","WQ","WLMQ","TL","TKS","TC","SW","QT","NLK","MNS","JMSE","JH","HTB","HBH","FK","EM","BL","ALT","Jovein","Hamedan","Karaj","Toyserkan","Taleghan","Czechia","Montana_w","Montana_r","Missouri","Nebraska","California","Plovdiv","Knezha","Lozitsa","Italy","Korea","Japan","Poland"]},"axis":{"title":null,"orient":"bottom","domain":false,"ticks":false,"grid":false,"labelAngle":270,"labelPadding":4,"labelFont":"Liberation Serif","labelFontWeight":"bold","labelFontSize":5,"labelColor":"#000000","labelOverlap":false}},
"y":{"field":"r","type":"nominal","scale":{"paddingInner":0,"paddingOuter":0,"domain":["ZS","XY","WS","WQ","WLMQ","TL","TKS","TC","SW","QT","NLK","MNS","JMSE","JH","HTB","HBH","FK","EM","BL","ALT","Jovein","Hamedan","Karaj","Toyserkan","Taleghan","Czechia","Montana_w","Montana_r","Missouri","Nebraska","California","Plovdiv","Knezha","Lozitsa","Italy","Korea","Japan","Poland"]},"axis":{"title":null,"domain":false,"ticks":false,"grid":false,"labelPadding":6,"labelFont":"Liberation Serif","labelFontWeight":"bold","labelFontSize":5,"labelColor":"#000000","labelOverlap":false}}
},
"layer":[
{"mark":{"type":"rect"},"encoding":{"color":{"field":"v","type":"quantitative","scale":{"domain":[-0.06,1],"range":["#fbfdf6","#c5e8c4","#85cc92"]},"legend":{"title":null,"orient":"none","legendX":200.8,"legendY":6.2,"direction":"horizontal","gradientLength":262,"gradientThickness":7.5,"values":[-0.06,1],"format":".3f","labelFontSize":4,"labelFont":"Liberation Serif","labelColor":"#333333","labelOverlap":false,"encode":{"labels":{"update":{"y":{"value":3.8},"baseline":{"value":"middle"},"align":{"signal":"datum.value<0?'right':'left'"},"dx":{"signal":"datum.value<0?-1:1"}}}}}}}},
{"mark":{"type":"text","font":"Liberation Serif","fontSize":3.9,"color":"#333333"},"encoding":{"text":{"field":"v","type":"quantitative","format":".3f"}}}
]}
